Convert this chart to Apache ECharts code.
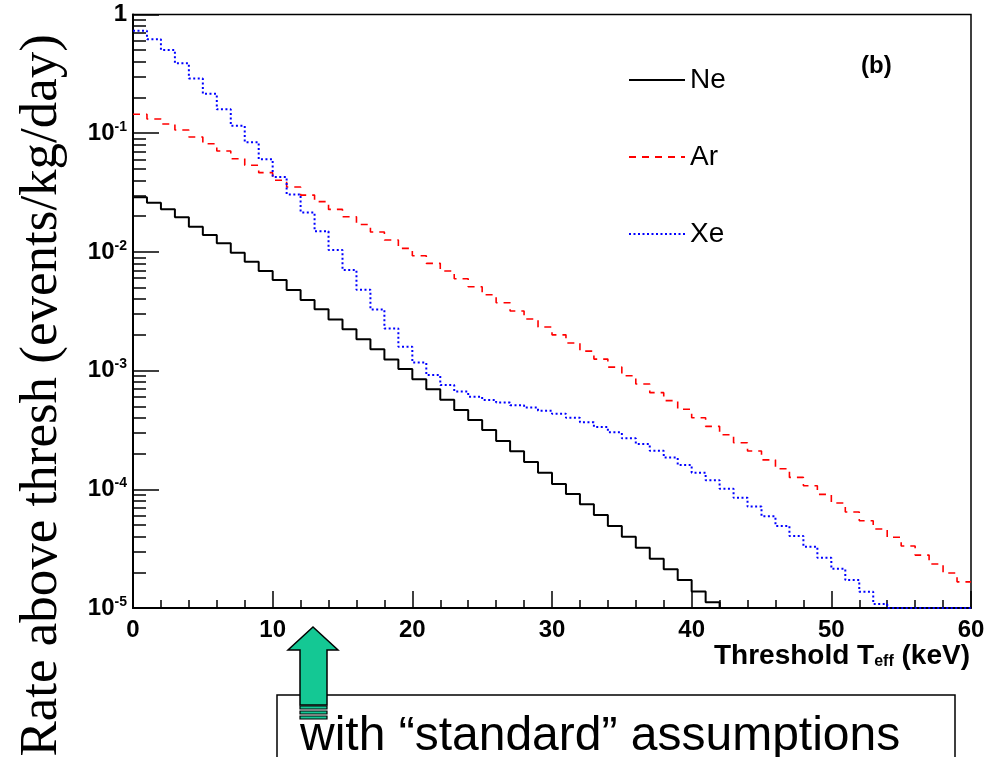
<!DOCTYPE html>
<html>
<head>
<meta charset="utf-8">
<script src="https://cdn.jsdelivr.net/npm/echarts@6/dist/echarts.min.js"></script>
<style>
html,body{margin:0;padding:0;background:#fff;}
#main{width:996px;height:757px;}
</style>
</head>
<body>
<div id="main"></div>
<script>
// Bin lower edges (keV), 1 keV wide bins from 0 to 60
const binEdgesKeV = [0,1,2,3,4,5,6,7,8,9,10,11,12,13,14,15,16,17,18,19,20,21,22,23,24,25,26,27,28,29,
  30,31,32,33,34,35,36,37,38,39,40,41,42,43,44,45,46,47,48,49,50,51,52,53,54,55,56,57,58,59,60];

// Rate above threshold (events/kg/day), one value per 1-keV bin
const neRate = [0.0288,0.0260,0.0229,0.0196,0.0163,0.0139,0.0118,0.00984,0.00826,0.00690,
  0.00580,0.00477,0.00393,0.00328,0.00270,0.00223,0.00184,0.00151,0.00124,0.00103,
  0.000845,0.000696,0.000569,0.000466,0.000384,0.000316,0.000255,0.000209,0.000170,0.000138,
  0.000111,0.0000912,0.0000748,0.0000607,0.0000491,0.0000399,0.0000322,0.0000260,0.0000212,0.0000172,
  0.0000138,0.0000112,1e-5,1e-5,1e-5,1e-5,1e-5,1e-5,1e-5,1e-5,
  1e-5,1e-5,1e-5,1e-5,1e-5,1e-5,1e-5,1e-5,1e-5,1e-5];

const arRate = [0.1443,0.1317,0.1195,0.1064,0.0929,0.0816,0.0708,0.0610,0.0537,0.0465,
  0.0401,0.0352,0.0301,0.0265,0.0228,0.0198,0.0170,0.0147,0.0126,0.0107,
  0.00929,0.00801,0.00690,0.00594,0.00509,0.00436,0.00373,0.00318,0.00272,0.00233,
  0.00200,0.00171,0.00146,0.00125,0.00107,0.000906,0.000771,0.000652,0.000558,0.000472,
  0.000401,0.000339,0.000288,0.000247,0.000210,0.000177,0.000149,0.000126,0.000107,0.0000907,
  0.0000767,0.0000644,0.0000544,0.0000463,0.0000394,0.0000333,0.0000279,0.0000235,0.0000197,0.0000166];

const xeRate = [0.730,0.618,0.502,0.388,0.289,0.215,0.159,0.1154,0.0840,0.0603,
  0.0428,0.0305,0.0215,0.01493,0.01038,0.00704,0.00480,0.00327,0.00226,0.00159,
  0.00117,0.000918,0.000756,0.000667,0.000603,0.000565,0.000538,0.000511,0.000489,0.000460,
  0.000434,0.000400,0.000367,0.000335,0.000302,0.000269,0.000241,0.000211,0.000185,0.000160,
  0.000138,0.000119,0.000101,0.0000849,0.0000715,0.0000592,0.0000491,0.0000404,0.0000328,0.0000265,
  0.0000214,0.0000172,0.0000137,0.0000108,1e-5,1e-5,1e-5,1e-5,1e-5,1e-5];

const seriesNames = ['Ne','Ar','Xe'];
const xTickLabels = ['0','10','20','30','40','50','60'];
const yMinorTickValues = [];
[1e-5,1e-4,1e-3,1e-2,1e-1].forEach(function(d){ for (let m=2;m<=9;m++) yMinorTickValues.push(+(m*d).toPrecision(3)); });

function histData(vals){
  const out = [];
  for (let i=0;i<vals.length;i++) out.push([binEdgesKeV[i], vals[i]]);
  out.push([binEdgesKeV[vals.length], vals[vals.length-1]]);
  return out;
}

const FONT = "'Liberation Sans', Arial, Helvetica, sans-serif";
const chart = echarts.init(document.getElementById('main'), null, {renderer:'canvas'});

const option = {
  animation: false,
  backgroundColor: '#fff',
  grid: {left:133, right:25, top:14.5, bottom:149, show:true, borderColor:'#000', borderWidth:1.5, backgroundColor:'transparent'},
  legend: {
    data: seriesNames, orient:'vertical', left:628, top:66, padding:0,
    itemWidth:56, itemHeight:14, itemGap:49,
    itemStyle:{opacity:0},
    textStyle:{fontSize:28, fontFamily:FONT, color:'#000', lineHeight:26},
    selectedMode:false
  },
  xAxis: {
    type:'value', min:0, max:60, interval:10,
    axisLine:{show:true, lineStyle:{color:'#000', width:2}},
    axisTick:{show:true, inside:true, length:17, lineStyle:{color:'#000', width:1.5}},
    minorTick:{show:true, splitNumber:5, length:8, lineStyle:{color:'#000', width:1.5}},
    splitLine:{show:false},
    axisLabel:{margin:10, fontSize:24, fontWeight:'bold', fontFamily:FONT, color:'#000',
      formatter:function(v){ const i = Math.round(v/10); return xTickLabels[i] !== undefined ? xTickLabels[i] : ''; }}
  },
  yAxis: [{
    type:'log', logBase:10, min:1e-5, max:1,
    axisLine:{show:true, lineStyle:{color:'#000', width:2}},
    axisTick:{show:true, inside:true, length:26, lineStyle:{color:'#000', width:1.5}},
    splitLine:{show:false},
    axisLabel:{margin:6, color:'#000',
      formatter:function(v){
        const e = Math.round(Math.log10(v));
        if (e === 0) return '{b|1}';
        return '{b|10}{s|' + e + '}';
      },
      rich:{
        b:{fontSize:24, fontWeight:'bold', fontFamily:FONT, color:'#000', lineHeight:26},
        s:{fontSize:14, fontWeight:'bold', fontFamily:FONT, color:'#000', lineHeight:14, verticalAlign:'top'}
      }
    }
  },{
    type:'log', logBase:10, min:1e-5, max:1, position:'left',
    axisLine:{show:false}, splitLine:{show:false}, axisLabel:{show:false},
    axisTick:{show:true, inside:true, length:13, customValues:yMinorTickValues, lineStyle:{color:'#000', width:1.5}}
  }],
  series: [
    {name:'Ne', type:'line', step:'end', data:histData(neRate), showSymbol:false, symbol:'none', clip:true,
      color:'#000', lineStyle:{color:'#000', width:2, type:'solid'}},
    {name:'Ar', type:'line', step:'end', data:histData(arRate), showSymbol:false, symbol:'none', clip:true,
      color:'#ff0000', lineStyle:{color:'#ff0000', width:1.6, type:[7,6]}},
    {name:'Xe', type:'line', step:'end', data:histData(xeRate), showSymbol:false, symbol:'none', clip:true,
      color:'#0000ff', lineStyle:{color:'#0000ff', width:2, type:[2,2.5]}}
  ],
  graphic: [
    {type:'text', x:42, y:34, rotation:Math.PI/2,
      style:{text:'Rate above thresh (events/kg/day)', font:"53px 'Liberation Serif', 'Times New Roman', serif",
        fill:'#000', align:'right', verticalAlign:'middle'}},
    {type:'text', x:970, y:656,
      style:{text:'{a|Threshold T}{s|eff}{a| (keV)}', align:'right', verticalAlign:'middle',
        rich:{
          a:{fontSize:28, fontWeight:'bold', fontFamily:FONT, fill:'#000', lineHeight:28},
          s:{fontSize:16, fontWeight:'bold', fontFamily:FONT, fill:'#000', lineHeight:16, verticalAlign:'bottom', padding:[12,0,0,0]}
        }}},
    {type:'text', x:861, y:54,
      style:{text:'(b)', font:"bold 24px 'Liberation Sans', Arial, sans-serif", fill:'#000', align:'left', verticalAlign:'top'}},
    {type:'rect', shape:{x:277, y:695, width:678, height:110},
      style:{fill:'#fff', stroke:'#000', lineWidth:1.5}},
    {type:'text', x:300, y:713,
      style:{text:'with \u201cstandard\u201d assumptions', font:"48px 'Liberation Sans', Arial, sans-serif", fill:'#000', align:'left', verticalAlign:'top'}},
    {type:'polygon', shape:{points:[[313,627],[338,650],[327,650],[327,705],[300,705],[300,650],[288,650]]},
      style:{fill:'#14c894', stroke:'#000', lineWidth:1.5}},
    {type:'rect', shape:{x:300, y:706, width:27, height:3}, style:{fill:'#14c894', stroke:'#000', lineWidth:1.2}},
    {type:'rect', shape:{x:300, y:711, width:27, height:3}, style:{fill:'#14c894', stroke:'#000', lineWidth:1.2}},
    {type:'rect', shape:{x:300, y:716, width:27, height:3}, style:{fill:'#14c894', stroke:'#000', lineWidth:1.2}}
  ]
};
chart.setOption(option);
</script>
</body>
</html>
